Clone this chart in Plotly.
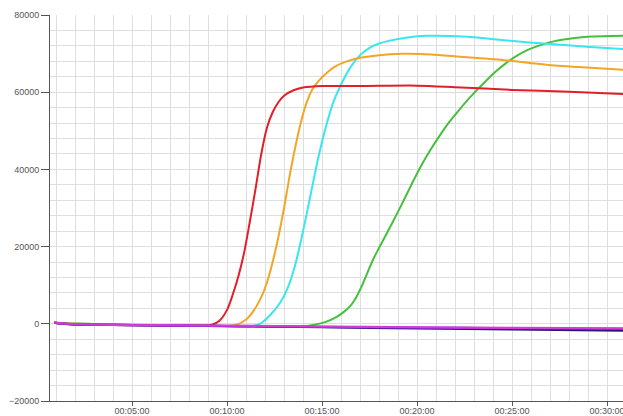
import plotly.graph_objects as go

# time in minutes, fluorescence values
red_t = [0.9, 2, 4, 6, 8, 8.8, 9.2, 9.6, 10.0, 10.3, 10.6, 10.9, 11.2, 11.5, 11.8, 12.1, 12.4, 12.7, 13.0, 13.5, 14.0, 15, 17, 20, 22, 25, 28, 30.9]
red_v = [200, -200, -300, -400, -470, -500, -250, 800, 3600, 7600, 12400, 18500, 26500, 35000, 44000, 50800, 54800, 57400, 59100, 60500, 61200, 61600, 61600, 61700, 61300, 60600, 60100, 59500]

orange_t = [0.9, 5, 9, 10.0, 10.5, 11.0, 11.4, 11.8, 12.1, 12.4, 12.7, 13.0, 13.3, 13.6, 13.9, 14.2, 14.5, 14.8, 15.2, 15.7, 16.3, 17.0, 18.0, 19.2, 20.2, 22, 24.4, 26.8, 28.5, 30.9]
orange_v = [200, -300, -500, -550, -250, 1100, 3400, 6900, 10700, 16000, 22500, 30000, 38500, 46000, 52500, 57500, 60800, 62800, 64800, 66700, 68000, 68900, 69600, 69950, 69900, 69300, 68400, 67100, 66500, 65800]

cyan_t = [0.9, 5, 9, 11.3, 11.8, 12.3, 12.8, 13.2, 13.6, 14.0, 14.4, 14.8, 15.2, 15.6, 16.0, 16.5, 17.0, 17.5, 18.0, 18.5, 19.5, 20.5, 22.6, 24.9, 27.0, 28.9, 30.9]
cyan_v = [200, -300, -500, -650, 200, 2400, 5500, 9400, 15500, 24000, 33500, 43000, 51000, 57500, 62000, 66500, 69600, 71500, 72600, 73300, 74200, 74600, 74350, 73300, 72500, 71800, 71200]

green_t = [0.9, 5, 10, 13, 14, 14.6, 15.2, 15.7, 16.1, 16.5, 16.8, 17.1, 17.4, 17.7, 18.2, 18.7, 19.2, 19.7, 20.2, 20.7, 21.2, 21.7, 22.2, 22.7, 23.2, 23.7, 24.2, 24.7, 25.2, 25.8, 26.5, 27.3, 28.2, 29.2, 30.9]
green_v = [200, -300, -550, -750, -650, -250, 500, 1600, 2900, 4700, 6900, 9900, 13400, 16800, 21500, 26200, 31000, 36000, 40800, 45000, 48800, 52300, 55300, 58200, 60800, 63300, 65600, 67600, 69300, 70900, 72200, 73300, 74000, 74400, 74600]

base_t = [0.9, 1.5, 2.5, 5, 10, 15, 20, 25, 30.9]
navy_v = [300, 0, -200, -350, -600, -900, -1200, -1450, -1750]
purple_v = [300, 0, -200, -350, -550, -800, -1000, -1150, -1300]
magenta_v = [350, 50, -150, -300, -500, -700, -900, -1050, -1150]

x_tickvals = [5, 10, 15, 20, 25, 30]
x_ticktext = ["00:05:00", "00:10:00", "00:15:00", "00:20:00", "00:25:00", "00:30:00"]
y_tickvals = [-20000, 0, 20000, 40000, 60000, 80000]

series = [
    (green_t, green_v, "#45c03c", 2),
    (cyan_t, cyan_v, "#38e6ef", 2),
    (orange_t, orange_v, "#f3a526", 2),
    (red_t, red_v, "#e31e2a", 2),
    (base_t, navy_v, "#2b1677", 2.2),
    (base_t, purple_v, "#7b22e0", 2.2),
    (base_t, magenta_v, "#d23cd6", 2.2),
]

fig = go.Figure()
for t, v, c, w in series:
    fig.add_trace(go.Scatter(x=t, y=v, mode="lines",
                             line=dict(color=c, width=w, shape="spline", smoothing=0.8),
                             showlegend=False, hoverinfo="skip"))

grid = "#dedede"
axis_col = "#555555"
fig.update_layout(
    width=623, height=416,
    margin=dict(l=50, r=0, t=15, b=15),
    paper_bgcolor="white", plot_bgcolor="white",
    font=dict(family="Liberation Sans, Arial, sans-serif", size=9, color="#555555"),
    xaxis=dict(range=[0.68, 30.84], tickvals=x_tickvals, ticktext=x_ticktext,
               automargin=False, ticklabeloverflow="allow",
               showgrid=True, gridcolor=grid, gridwidth=1,
               minor=dict(dtick=1, tick0=0, showgrid=True, gridcolor=grid, gridwidth=1),
               showline=True, linecolor=axis_col, linewidth=1,
               ticks="outside", ticklen=4, tickcolor=axis_col, zeroline=False,
               ticklabelstandoff=-3),
    yaxis=dict(range=[-20000, 80000], tickvals=y_tickvals, tickformat="d",
               automargin=False,
               showgrid=True, gridcolor=grid, gridwidth=1,
               minor=dict(dtick=4000, tick0=0, showgrid=True, gridcolor=grid, gridwidth=1),
               showline=True, linecolor=axis_col, linewidth=1,
               ticks="outside", ticklen=8, tickcolor=axis_col, zeroline=False),
)

fig.write_html("out.html")
